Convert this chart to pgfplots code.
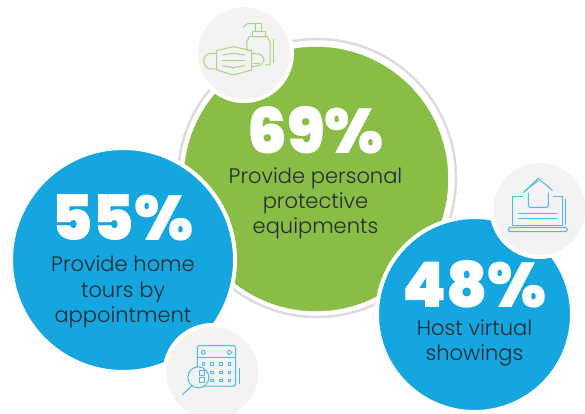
\documentclass[border=0pt]{standalone}
\usepackage{pgfplots}
\pgfplotsset{compat=1.18}
\usepackage{fontspec}
\setmainfont{Poppins Light}
\newfontfamily\bignum{Poppins Black}
\definecolor{leaf}{HTML}{8ABD45}
\definecolor{sky}{HTML}{15A5DF}
\definecolor{disc}{HTML}{F3F3F3}
\definecolor{ringgray}{HTML}{DCDCDC}
\definecolor{ink}{HTML}{222B33}
\definecolor{leaficon}{HTML}{A9D27E}
\definecolor{skyicon}{HTML}{4DB9E8}
\tikzset{
  pct/.style={white, anchor=base, font=\bignum\fontsize{63}{63}\selectfont},
  capt/.style={ink, align=center, anchor=north, font=\fontsize{21}{25.2}\selectfont}
}
\begin{document}
\begin{tikzpicture}
\path[use as bounding box] (0,0) rectangle (585pt,413pt);
\begin{axis}[
  scale only axis, width=585pt, height=413pt,
  xmin=0, xmax=585, ymin=0, ymax=413, y dir=reverse,
  axis lines=none, clip=false, clip mode=individual]
% outer ring and main bubble
\addplot[only marks, mark=*, mark size=139pt, mark options={draw=ringgray, line width=2.5pt, fill=white}] coordinates {(317,178)};
\addplot[only marks, mark=*, mark size=132pt, mark options={draw=leaf, fill=leaf}] coordinates {(316,179)};
% secondary bubbles
\addplot[only marks, mark=*, mark size=112pt, mark options={draw=white, line width=4pt, fill=sky}] coordinates {(123,260)};
\addplot[only marks, mark=*, mark size=97.5pt, mark options={draw=white, line width=4pt, fill=sky}] coordinates {(474.5,314.5)};
% icon discs
\addplot[only marks, mark=*, mark size=48pt, mark options={draw=white, line width=4pt, fill=disc}] coordinates {(244,53) (539.5,209) (212.5,373)};
% labels
\node[pct] at (315.5,153) {69\%};
\node[pct] at (122.5,240) {55\%};
\node[pct] at (474.5,307) {48\%};
\node[capt] at (315.5,164) {Provide personal\\protective\\equipments};
\node[capt] at (123,252.5) {Provide home\\tours by\\appointment};
\node[capt] at (474.5,316) {Host virtual\\showings};
\end{axis}
% sanitizer and mask icon
\begin{scope}[shift={(170pt,413pt)}, x=1pt/3, y=-1pt/3, draw=leaficon, line width=1pt, line join=round]
\draw (140,152) -- (190,140) -- (245,152) -- (245,210) -- (190,225) -- (140,210) -- cycle;
\draw (140,160) -- (120,160) .. controls (95,165) and (95,200) .. (120,207) -- (140,207);
\draw (245,160) -- (265,162) .. controls (288,168) and (288,190) .. (265,197) -- (245,200);
\draw (157,165) -- (190,160) -- (225,165);
\draw (157,182) -- (225,182);
\draw (157,197) -- (190,203) -- (225,197);
\draw (245,152) -- (232,152) -- (230,125) -- (238,110) -- (292,110) -- (300,125) -- (300,195) -- (285,195);
\draw (248,192) -- (270,192);
\draw (310,118) -- (310,190);
\draw (246,110) -- (246,95) -- (285,95) -- (285,110);
\draw (255,95) -- (255,71) -- (275,71) -- (275,95);
\draw (220,82) -- (232,71) -- (255,71);
\end{scope}
% laptop and house icon
\begin{scope}[shift={(480pt,263pt)}, x=1pt/3, y=-1pt/3, draw=skyicon, line width=1pt, line join=round]
\draw (130,140) -- (97,140) -- (97,225) -- (247,225) -- (247,140) -- (220,140);
\draw (255,147) -- (255,225);
\draw[rounded corners=1.5pt] (85,232) rectangle (262,245);
\draw (130,128) -- (175,85) -- (218,122);
\draw (135,122) -- (175,92);
\draw[rounded corners=1.5pt] (145,128) -- (145,172) -- (205,172) -- (205,128);
\draw[line width=1.4pt] (115,190) -- (230,190);
\draw (115,205) -- (230,205);
\end{scope}
% calendar and magnifier icon
\begin{scope}[shift={(150pt,103pt)}, x=1pt/3, y=-1pt/3, draw=skyicon, line width=1pt, line join=round]
\draw[rounded corners=1.5pt] (142,107) rectangle (257,228);
\draw (142,142) -- (257,142);
\draw (160,127) circle (2pt);
\draw (238,127) circle (2pt);
\draw (268,175) -- (268,222);
\foreach \cx in {160,186,212,238} \foreach \cy in {162,187,211}
  \draw (\cx-4,\cy-4) rectangle (\cx+4,\cy+4);
\draw[fill=disc] (145,202) circle (10.5pt);
\draw (148,180) rectangle (164,196);
\draw (148,202) rectangle (164,218);
\draw (125,228) -- (97,254);
\end{scope}
\end{tikzpicture}
\end{document}
